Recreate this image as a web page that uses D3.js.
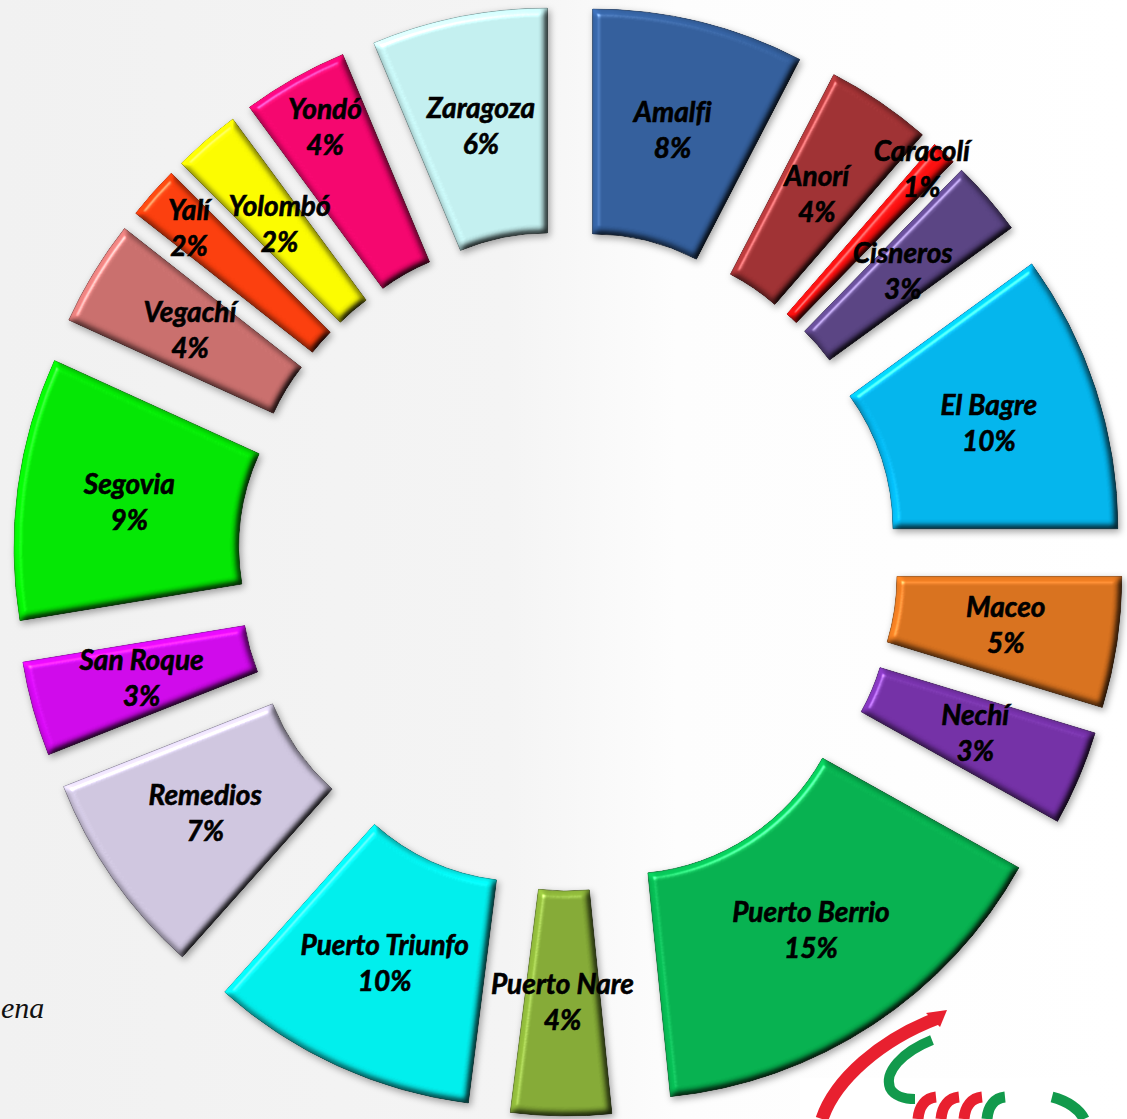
<!DOCTYPE html>
<html>
<head>
<meta charset="utf-8">
<script src="https://cdn.jsdelivr.net/npm/d3@7"></script>
<style>
  html, body { margin: 0; padding: 0; background: #fff; }
  svg { display: block; }
</style>
</head>
<body>
<svg id="chart" width="1127" height="1119"></svg>
<script>
// municipios (share of total, %), clockwise from 12 o'clock
const names = ['Amalfi', 'Anorí', 'Caracolí', 'Cisneros', 'El Bagre', 'Maceo', 'Nechí',
  'Puerto Berrio', 'Puerto Nare', 'Puerto Triunfo', 'Remedios', 'San Roque', 'Segovia',
  'Vegachí', 'Yalí', 'Yolombó', 'Yondó', 'Zaragoza']
const shares = [7.6, 3.8, 0.9, 2.7, 10.0, 4.7, 3.4, 15.3, 3.6, 9.6, 7.4, 3.4, 9.4, 3.8, 1.9, 2.4, 3.8, 6.3]
const colors = ['#35619f', '#a23335', '#ff1010', '#5b4585', '#04b8f0', '#dc7420', '#7632a9',
  '#07b451', '#87ad38', '#00f2f0', '#d2c9e3', '#d20aee', '#04ea04', '#cc716f', '#ff400e',
  '#ffff00', '#f80670', '#c6f3f3']
// labels Excel pushed away from the slice centre to avoid overlaps
const labelNudge = { 'Caracolí': [54, -66], 'Yalí': [-48, -38], 'Yondó': [-25, -48] }

const width = 1127
const height = 1119
const cx = 568
const cy = 561
const innerR = 226
const outerR = 451
const explode = 104

const data = names.map((n, i) => ({ name: n, value: shares[i], color: colors[i] }))

const svg = d3.select('#chart')
const defs = svg.append('defs')

// background: light grey on the left fading to white
const bg = defs.append('linearGradient').attr('id', 'bg').attr('x1', 0).attr('x2', 1).attr('y1', 0).attr('y2', 0)
bg.append('stop').attr('offset', '0%').attr('stop-color', '#f1f1f1')
bg.append('stop').attr('offset', '45%').attr('stop-color', '#f4f4f4')
bg.append('stop').attr('offset', '60%').attr('stop-color', '#fdfdfd')
bg.append('stop').attr('offset', '100%').attr('stop-color', '#ffffff')

svg.append('rect').attr('width', width).attr('height', height).attr('fill', 'url(#bg)')

// soft bevel + shadow, like the Office 3D format
defs.append('filter').attr('id', 'bevel')
  .attr('x', '-10%').attr('y', '-10%').attr('width', '125%').attr('height', '125%')
  .attr('color-interpolation-filters', 'sRGB')
  .html(`
    <feGaussianBlur in="SourceAlpha" stdDeviation="3.5" result="blur"/>
    <feDiffuseLighting in="blur" surfaceScale="5" diffuseConstant="1" lighting-color="#fff" result="diff">
      <feDistantLight azimuth="225" elevation="55"/>
    </feDiffuseLighting>
    <feComposite in="SourceGraphic" in2="diff" operator="arithmetic" k1="1.2" k2="0" k3="0" k4="0" result="shaded"/>
    <feSpecularLighting in="blur" surfaceScale="5" specularConstant="0.9" specularExponent="60" lighting-color="#fff" result="spec">
      <feDistantLight azimuth="225" elevation="55"/>
    </feSpecularLighting>
    <feComposite in="spec" in2="SourceAlpha" operator="in" result="specIn"/>
    <feComposite in="shaded" in2="specIn" operator="arithmetic" k1="0" k2="1" k3="0.45" k4="-0.02" result="lit"/>
    <feComposite in="lit" in2="SourceAlpha" operator="in" result="litIn"/>
    <feOffset in="blur" dx="2" dy="3" result="off"/>
    <feFlood flood-color="#000" flood-opacity="0.35"/>
    <feComposite in2="off" operator="in" result="shadow"/>
    <feMerge><feMergeNode in="shadow"/><feMergeNode in="litIn"/></feMerge>`)

const pie = d3.pie().sort(null).value((d) => d.value)
const arc = d3.arc().innerRadius(innerR).outerRadius(outerR)
const arcs = pie(data)

const mid = (d) => (d.startAngle + d.endAngle) / 2
const shift = (d) => [explode * Math.sin(mid(d)), -explode * Math.cos(mid(d))]

const g = svg.append('g').attr('transform', `translate(${cx},${cy})`)

g.append('g')
  .selectAll('path')
  .data(arcs)
  .join('path')
  .attr('transform', (d) => `translate(${shift(d)})`)
  .attr('d', arc)
  .attr('fill', (d) => d.data.color)
  .attr('stroke', (d) => d3.color(d.data.color).darker(0.9))
  .attr('stroke-width', 0.8)
  .attr('filter', 'url(#bevel)')

const labels = g.append('g')
  .selectAll('text')
  .data(arcs)
  .join('text')
  .attr('transform', (d) => {
    const [sx, sy] = shift(d)
    const [ax, ay] = arc.centroid(d)
    const [nx, ny] = labelNudge[d.data.name] || [0, 0]
    return `translate(${ax + sx + nx},${ay + sy + ny})`
  })
  .attr('text-anchor', 'middle')
  .style('font-family', 'Lato, "Open Sans", sans-serif')
  .style('font-weight', 'bold')
  .style('font-style', 'italic')
  .style('font-size', '28px')
  .style('font-variant-ligatures', 'none')
  .attr('fill', '#000')
  .attr('stroke', '#000')
  .attr('stroke-width', 0.6)

labels.append('tspan').attr('x', 0).attr('y', -9).text((d) => d.data.name)
labels.append('tspan').attr('x', 0).attr('y', 27).text((d) => Math.round(d.data.value) + '%')

// cut-off source note at the left edge
svg.append('text')
  .attr('x', 1).attr('y', 1018)
  .style('font-family', '"Liberation Serif", "Times New Roman", "DejaVu Serif", serif')
  .style('font-style', 'italic')
  .style('font-size', '30px')
  .attr('fill', '#111')
  .text('ena')

// partial logo in the bottom-right corner
const logo = svg.append('g').attr('fill', 'none').attr('stroke-linecap', 'butt')
logo.append('rect').attr('x', 800).attr('y', 1078).attr('width', 300).attr('height', 41).attr('fill', '#fff').attr('stroke', 'none')
logo.append('path')
  .attr('d', 'M938,1018 C880,1040 835,1080 822,1119')
  .attr('stroke', '#e8202f').attr('stroke-width', 13)
logo.append('path')
  .attr('d', 'M947,1010 L926,1013 L940,1027 Z')
  .attr('fill', '#e8202f').attr('stroke', 'none')
logo.append('path')
  .attr('d', 'M932,1040 C902,1052 884,1072 890,1088 C894,1096 905,1099 915,1099')
  .attr('stroke', '#129a4c').attr('stroke-width', 10)
const stripeX = [918, 941, 964, 987]
logo.selectAll('.stripe')
  .data(stripeX)
  .join('path')
  .attr('class', 'stripe')
  .attr('d', (x) => `M${x},1119 C${x + 1},1106 ${x + 8},1098 ${x + 18},1097`)
  .attr('stroke', (x, i) => (i < 3 ? '#e8202f' : '#129a4c'))
  .attr('stroke-width', 11)
logo.append('path')
  .attr('d', 'M1052,1097 C1068,1101 1080,1110 1084,1119')
  .attr('stroke', '#129a4c').attr('stroke-width', 11)
</script>
</body>
</html>
